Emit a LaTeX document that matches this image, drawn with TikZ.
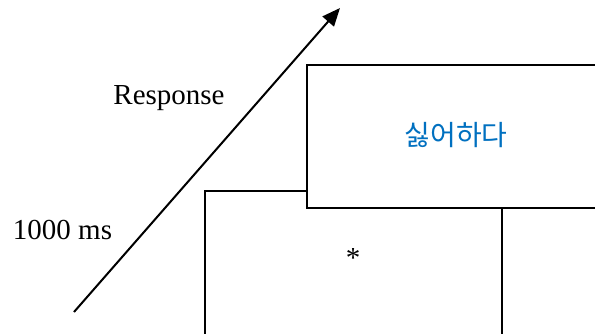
\documentclass[tikz,border=0pt]{standalone}
\usepackage{fontspec}
\setmainfont{Liberation Serif}
\newfontfamily\krfont{Noto Sans CJK KR}
\usetikzlibrary{arrows.meta}
\definecolor{wordblue}{RGB}{0,112,192}

\begin{document}
\begin{tikzpicture}[x=1pt, y=-1pt, line width=2pt,
  screen/.style={draw, fill=white, inner sep=0pt},
  lbl/.style={font=\fontsize{29}{34}\selectfont, inner sep=0pt},
  arr/.style={-{Triangle[length=18pt, width=15pt]}}]
\useasboundingbox (0,0) rectangle (595,333);
\clip (0,0) rectangle (595,333);
% fixation screen, then the word screen on top of it
\node[screen, minimum width=296.5pt, minimum height=209pt] (fix) at (353.25,295.5) {};
\node[screen, minimum width=393.5pt, minimum height=143pt] (word) at (503.25,136.5) {};
\node[lbl] (star) at (353,258) {*};
\node[inner sep=0pt, text=wordblue, font=\krfont\fontsize{28}{32}\selectfont] (verb) at (456,135) {싫어하다};
% time axis
\coordinate (t0) at (74,312);
\coordinate (t1) at (340,8);
\draw[arr] (t0) -- (t1);
\node[lbl] (dur) at (62.5,230) {1000 ms};
\node[lbl] (resp) at (169,98) {Response};
\end{tikzpicture}
\end{document}
